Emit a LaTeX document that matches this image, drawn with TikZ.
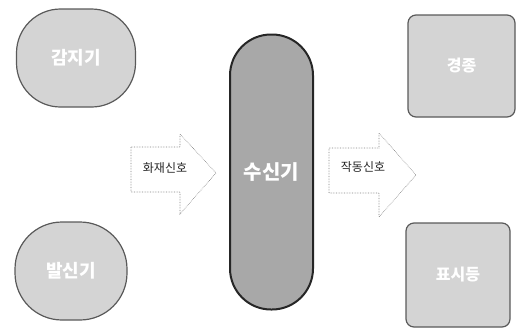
\documentclass[tikz,border=0pt]{standalone}
\usepackage{fontspec}
\setmainfont{Noto Sans CJK KR}
\usetikzlibrary{shapes.geometric}
\definecolor{boxfill}{HTML}{D4D4D4}
\definecolor{capfill}{HTML}{A8A8A8}
\definecolor{edge}{HTML}{5A5A5A}
\tikzset{
  blob/.style={draw=edge, line width=1.2pt, fill=boxfill, text=white, font=\fontsize{18}{18}\selectfont\bfseries, inner sep=0pt},
  sqbox/.style={draw=edge, line width=1.2pt, fill=boxfill, rounded corners=8pt, text=white, font=\fontsize{16}{16}\selectfont\bfseries, inner sep=0pt},
  capsule/.style={draw=black!85, line width=2pt, fill=capfill, rounded corners=41pt, text=white, font=\fontsize{20}{20}\selectfont\bfseries, inner sep=0pt},
  sigarrow/.style={draw=gray, densely dotted, line width=0.6pt, fill=white},
  siglabel/.style={font=\fontsize{12}{12}\selectfont, text=black!85, inner sep=0pt},
}
\begin{document}
\begin{tikzpicture}[x=1pt,y=-1pt]
\useasboundingbox (0,0) rectangle (518,335);
% left sources
\node[blob, rounded corners=44pt, minimum width=119pt, minimum height=98pt] (detector) at (76,58) {감지기};
\node[blob, rounded corners=47pt, minimum width=112pt, minimum height=98pt] (sender) at (71,271) {발신기};
% receiver capsule
\node[capsule, minimum width=83pt, minimum height=275pt] (receiver) at (271.5,172) {수신기};
% right outputs
\node[sqbox, minimum width=107pt, minimum height=102pt] (bell) at (461.5,66) {경종};
\node[sqbox, minimum width=104pt, minimum height=104pt] (lamp) at (458,275) {표시등};
% fire signal arrow
\draw[sigarrow] (131,147) -- (180,147) -- (180,134) -- (216,173) -- (180,214) -- (180,192) -- (131,192) -- cycle;
\node[siglabel] (firesig) at (165,168) {화재신호};
% operation signal arrow
\draw[sigarrow] (329,148) -- (379,148) -- (379,133) -- (416,175) -- (379,217) -- (379,193) -- (329,193) -- cycle;
\node[siglabel] (opsig) at (363,167) {작동신호};
\end{tikzpicture}
\end{document}
